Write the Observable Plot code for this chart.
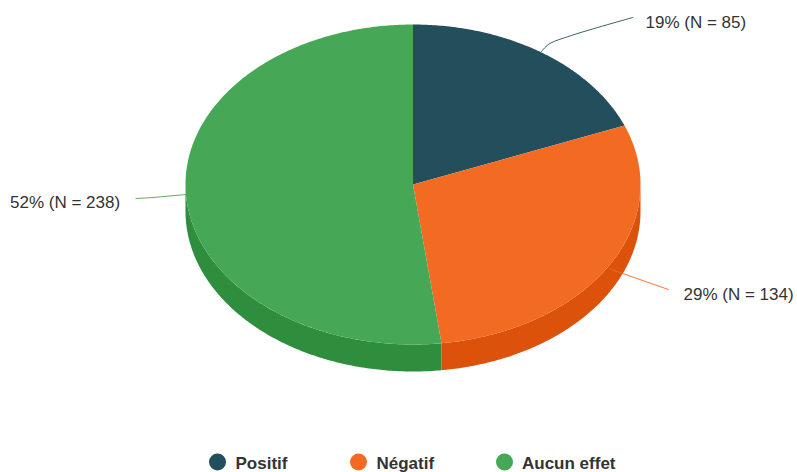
<!DOCTYPE html>
<html>
<head>
<meta charset="utf-8">
<script src="https://cdn.jsdelivr.net/npm/d3@7"></script>
<script src="https://cdn.jsdelivr.net/npm/@observablehq/plot@0.6"></script>
<style>html,body{margin:0;padding:0;background:#fff}svg{display:block}</style>
</head>
<body>
<div id="chart"></div>
<script>
// Data
const categories = ["Positif", "Négatif", "Aucun effet"];
const counts = [85, 134, 238];
const percents = [19, 29, 52];
const sliceColors = ["#234e5c", "#f36b23", "#46a856"];
const sideColors = ["#193a45", "#dc520a", "#2e8e3d"];

// Layout
const W = 797, H = 472;
const cx = 412.5, cy = 184, rx = 227.5, ry = 160, depth = 27;
const labelX = [645, 683, 9.5];
const labelY = [22, 294, 202];
const leaderOffsets = [
  [[0, 0], [8, -8], [30, -16.5], [92, -34.7]],
  [[1, 3], [59.6, 23.6]],
  [[0, 0], [-33, 3], [-50, 4]]
];
const legendDotX = [217, 358, 504];
const legendTextX = [235, 376, 521.5];
const legendDotY = 461.5;
const legendTextY = 463;

// Geometry derived from the values
const pt = (t, dy = 0) => ({x: cx + rx * Math.sin(t), y: cy - ry * Math.cos(t) + dy});
const arc = (a, b, dy = 0) => {
  const n = Math.max(2, Math.ceil(Math.abs(b - a) / 0.01));
  return d3.range(n + 1).map(i => pt(a + (b - a) * i / n, dy));
};
const pies = d3.pie().sort(null).value(d => d)(percents);

const polys = [];
pies.forEach((p, i) => {
  // side wall: only the front half of the ellipse (pi/2 .. 3pi/2) shows
  const a = Math.max(p.startAngle, Math.PI / 2), b = Math.min(p.endAngle, 3 * Math.PI / 2);
  if (b > a) {
    const wall = [...arc(a, b), ...arc(b, a, depth)];
    wall.forEach(q => polys.push({...q, key: "side-" + categories[i], order: 0}));
  }
});
pies.forEach((p, i) => {
  const top = [{x: cx, y: cy}, ...arc(p.startAngle, p.endAngle)];
  top.forEach(q => polys.push({...q, key: categories[i], order: 1}));
});

const leaders = [];
pies.forEach((p, i) => {
  const s = pt((p.startAngle + p.endAngle) / 2);
  leaderOffsets[i].forEach(([dx, dy]) => leaders.push({x: s.x + dx, y: s.y + dy, cat: categories[i]}));
});

const labels = categories.map((c, i) => ({
  text: `${percents[i]}% (N = ${counts[i]})`, x: labelX[i], y: labelY[i]
}));
const legend = categories.map((c, i) => ({c, dx: legendDotX[i], tx: legendTextX[i]}));

const colorDomain = [...categories, ...categories.map(c => "side-" + c)];
const colorRange = [...sliceColors, ...sideColors];

const plot = Plot.plot({
  width: W, height: H, margin: 0,
  style: {background: "#fff", fontFamily: "'Liberation Sans', Arial, sans-serif"},
  x: {domain: [0, W], range: [0, W], axis: null},
  y: {domain: [0, H], range: [0, H], axis: null},
  color: {domain: colorDomain, range: colorRange},
  marks: [
    Plot.line(polys.filter(d => d.order === 0), {x: "x", y: "y", z: "key", fill: "key", stroke: "none"}),
    Plot.line(polys.filter(d => d.order === 1), {x: "x", y: "y", z: "key", fill: "key", stroke: "none"}),
    categories.map((c, i) => Plot.line(leaders.filter(d => d.cat === c), {
      x: "x", y: "y", stroke: sliceColors[i], strokeWidth: 1, strokeOpacity: 0.9,
      curve: i === 0 ? "catmull-rom" : "linear"
    })),
    Plot.text(labels, {x: "x", y: "y", text: "text", textAnchor: "start", lineAnchor: "middle",
      fontSize: 17, fill: "#333"}),
    Plot.dot(legend, {x: "dx", y: () => legendDotY, r: 8.5, fill: "c", stroke: "none"}),
    Plot.text(legend, {x: "tx", y: () => legendTextY, text: "c", textAnchor: "start", lineAnchor: "middle",
      fontSize: 17, fontWeight: "bold", fill: "#333"})
  ]
});
document.getElementById("chart").appendChild(plot);
</script>
</body>
</html>
